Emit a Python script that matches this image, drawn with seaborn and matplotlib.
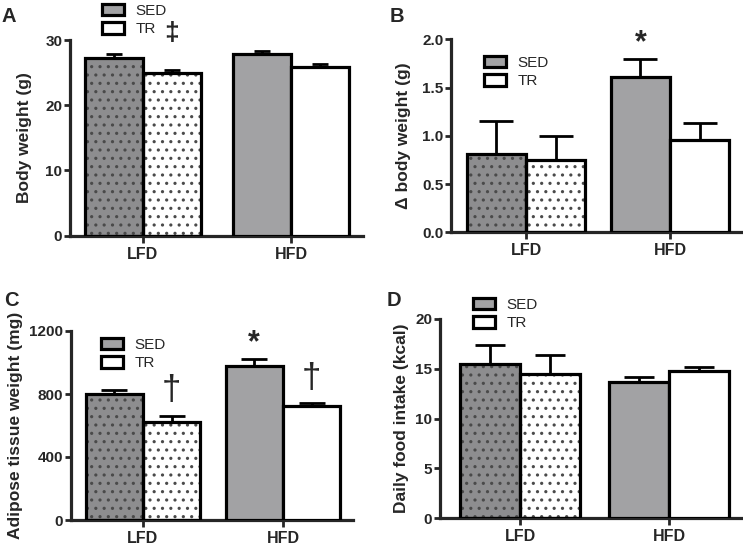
import numpy as np
import pandas as pd
import matplotlib
matplotlib.use("Agg")
import matplotlib.pyplot as plt
from matplotlib.patches import Patch, Rectangle
import seaborn as sns

# --- data ---
diets = ["LFD", "HFD"]
groups = ["SED", "TR"]

# order: LFD-SED, LFD-TR, HFD-SED, HFD-TR
body_weight = [27.3, 25.0, 27.8, 25.9]
body_weight_err = [0.6, 0.35, 0.45, 0.45]
delta_bw = [0.81, 0.75, 1.61, 0.96]
delta_bw_err = [0.34, 0.25, 0.19, 0.17]
adipose = [798, 620, 980, 722]
adipose_err = [25, 42, 45, 18]
food_intake = [15.5, 14.5, 13.7, 14.8]
food_intake_err = [1.9, 1.9, 0.5, 0.4]

ticks_a = [0, 10, 20, 30]
ticks_b = ["0.0", "0.5", "1.0", "1.5", "2.0"]
ticks_c = [0, 400, 800, 1200]
ticks_d = [0, 5, 10, 15, 20]

marks_b = [("HFD", "SED", "*")]
marks_c = [("LFD", "TR", "\u2020"), ("HFD", "SED", "*"), ("HFD", "TR", "\u2020")]

# colours
sed_grey = "#a2a2a4"
lfd_sed_grey = "#8d8d8f"
dot_grey = "#4a4a4a"

sns.set_style("ticks")
plt.rcParams["font.family"] = ["Liberation Sans", "DejaVu Sans"]
plt.rcParams["hatch.linewidth"] = 1.1

W, H = 743, 547
fig = plt.figure(figsize=(W / 100, H / 100), dpi=100)


def add_axes_px(left, top, right, bottom):
    return fig.add_axes([left / W, 1 - bottom / H, (right - left) / W, (bottom - top) / H])


panels = [
    dict(letter="A", letter_xy=(2, 22), box=(70, 40, 363, 235.5), centers=(143, 291),
         width=0.79, vals=body_weight, err=body_weight_err, ymax=30, yticks=ticks_a,
         ylabel="Body weight (g)", label_x=32, cap=6, legend_xy=(102, 20), marks=[]),
    dict(letter="B", letter_xy=(390, 22), box=(451, 39.3, 743, 232.3), centers=(526, 670),
         width=0.82, vals=delta_bw, err=delta_bw_err, ymax=2.0, yticks=ticks_b,
         ylabel="\u0394 body weight (g)", label_x=411, cap=12, legend_xy=(484, 72), marks=marks_b),
    dict(letter="C", letter_xy=(4, 306), box=(71, 331, 353, 520), centers=(143, 283),
         width=0.82, vals=adipose, err=adipose_err, ymax=1200, yticks=ticks_c,
         ylabel="Adipose tissue weight (mg)", label_x=23, cap=9.5, legend_xy=(101, 354), marks=marks_c),
    dict(letter="D", letter_xy=(387, 306), box=(440, 319, 743, 518), centers=(520, 669),
         width=0.81, vals=food_intake, err=food_intake_err, ymax=20, yticks=ticks_d,
         ylabel="Daily food intake (kcal)", label_x=409, cap=10.5, legend_xy=(473, 314), marks=[]),
]

for pn in panels:
    left, top, right, bottom = pn["box"]
    ax = add_axes_px(left, top, right, bottom)

    df = pd.DataFrame({
        "diet": np.repeat(diets, len(groups)),
        "group": groups * len(diets),
        "value": pn["vals"],
        "err": pn["err"],
    })

    sns.barplot(data=df, x="diet", y="value", hue="group", order=diets, hue_order=groups,
                palette={"SED": sed_grey, "TR": "white"}, width=pn["width"], gap=0,
                edgecolor="black", linewidth=2.3, errorbar=None, legend=False,
                saturation=1, ax=ax)

    for p in list(ax.patches):
        cx = p.get_x() + p.get_width() / 2
        di = int(round(cx))
        grp = "SED" if cx < di else "TR"
        row = df[(df["diet"] == diets[di]) & (df["group"] == grp)].iloc[0]
        p.set_zorder(3)
        # error bar (upper only)
        ax.errorbar(cx, p.get_height(), yerr=[[0], [row["err"]]], fmt="none",
                    ecolor="black", elinewidth=2, capsize=pn["cap"], capthick=2, zorder=2)
        if diets[di] == "LFD":
            fill = lfd_sed_grey if grp == "SED" else "white"
            p.set_facecolor("none")
            ax.add_patch(Rectangle((p.get_x(), p.get_y()), p.get_width(), p.get_height(),
                                   facecolor=fill, edgecolor=dot_grey, linewidth=0,
                                   hatch="..", zorder=2.5))
        for d, g, sym in pn["marks"]:
            if d == diets[di] and g == grp:
                if sym == "*":
                    ax.annotate(sym, xy=(cx, row["value"] + row["err"]), xytext=(0, 0),
                                textcoords="offset points", ha="center", va="bottom",
                                fontsize=22, fontweight="bold")
                else:
                    ax.annotate(sym, xy=(cx, row["value"] + row["err"]), xytext=(0, 6),
                                textcoords="offset points", ha="center", va="bottom",
                                fontsize=25)

    c0, c1 = pn["centers"]
    ppu = c1 - c0
    ax.set_xlim((left - c0) / ppu, (right - c0) / ppu)
    ax.set_ylim(0, pn["ymax"])
    ax.set_yticks(np.linspace(0, pn["ymax"], len(pn["yticks"])))
    ax.set_yticklabels([str(t) for t in pn["yticks"]])

    sns.despine(ax=ax)
    ax.spines["left"].set_linewidth(2.3)
    ax.spines["bottom"].set_linewidth(2.3)
    ax.tick_params(axis="y", direction="out", length=4.5, width=2, labelsize=11, pad=1)
    ax.tick_params(axis="x", direction="out", length=5, width=2, labelsize=11.5, pad=3)
    for lbl in ax.get_xticklabels() + ax.get_yticklabels():
        lbl.set_fontweight("bold")

    ax.set_xlabel("")
    ax.set_ylabel(pn["ylabel"], fontsize=12.5, fontweight="bold")
    ax.yaxis.set_label_coords((pn["label_x"] - left) / (right - left), 0.5)

    handles = [Patch(facecolor=sed_grey, edgecolor="black", linewidth=2.3),
               Patch(facecolor="white", edgecolor="black", linewidth=2.3)]
    lx, ly = pn["legend_xy"]
    ax.legend(handles, groups, loc="center left", bbox_to_anchor=(lx / W, 1 - ly / H),
              bbox_transform=fig.transFigure, frameon=False, fontsize=11,
              handlelength=1.45, handleheight=0.8, handletextpad=0.75,
              labelspacing=0.3, borderpad=0, borderaxespad=0)

    fx, fy = pn["letter_xy"]
    fig.text(fx / W, 1 - fy / H, pn["letter"], ha="left", va="baseline",
             fontsize=14.5, fontweight="bold")

# double dagger next to the TR legend entry in panel A
fig.text(172 / W, 1 - 33 / H, "\u2021", ha="center", va="center", fontsize=19, fontweight="bold")

fig.savefig("out.png", dpi=100)
